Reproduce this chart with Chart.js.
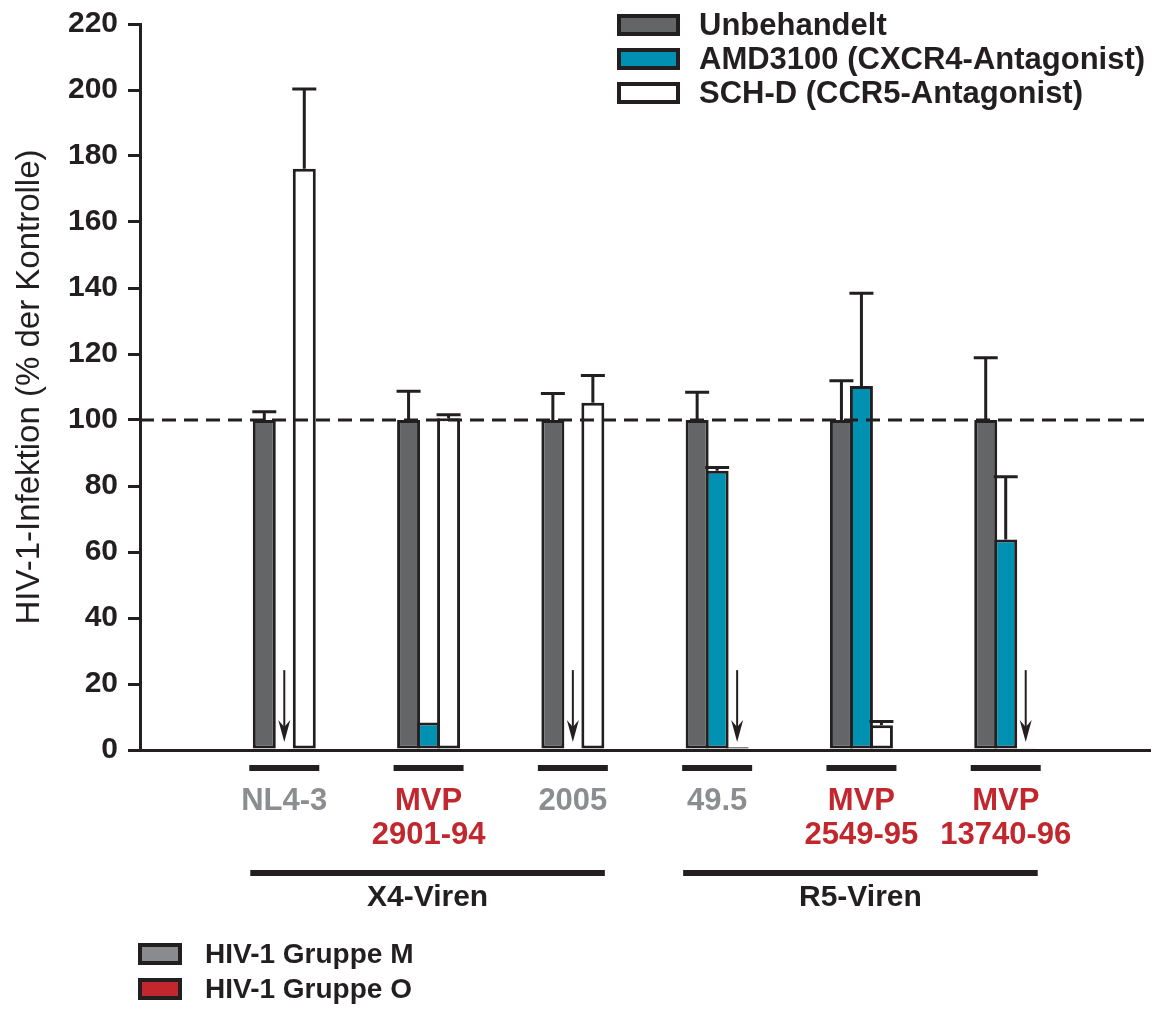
<!DOCTYPE html>
<html>
<head>
<meta charset="utf-8">
<script src="https://cdn.jsdelivr.net/npm/chart.js@4.4.1/dist/chart.umd.min.js"></script>
<style>
  html, body { margin: 0; padding: 0; background: #ffffff; }
  #wrap { width: 1161px; height: 1013px; position: relative; }
</style>
</head>
<body>
<div id="wrap"><canvas id="chart" width="1161" height="1013"></canvas></div>
<script>
// Virus isolates on the x axis (empty slots pad both ends of the axis)
const categories = ['', 'NL4-3', ['MVP', '2901-94'], '2005', '49.5', ['MVP', '2549-95'], ['MVP', '13740-96'], ''];
const virusGroup = [null, 'M', 'O', 'M', 'M', 'O', 'O', null];

// HIV-1 infection, % of control (mean and upper end of the error bar)
const untreated    = [null, 100, 100, 100, 100, 100, 100, null];
const untreatedErr = [null, 102.5, 108.7, 108, 108.4, 111.9, 118.9, null];
const amd3100      = [null, 0, 8.3, 0, 84.6, 110.3, 63.8, null];
const amd3100Err   = [null, null, null, null, 85.6, 138.4, 82.8, null];
const schD         = [null, 176.1, 100.5, 105.2, 0.8, 7.5, 0.5, null];
const schDErr      = [null, 200.3, 101.6, 113.5, null, 8.6, null, null];

const seriesNames = ['Unbehandelt', 'AMD3100 (CXCR4-Antagonist)', 'SCH-D (CCR5-Antagonist)'];
const yTickValues = [0, 20, 40, 60, 80, 100, 120, 140, 160, 180, 200, 220];
const referenceLevel = 100;

// [dataset index, category index] of infections below detection
const belowDetection = [[1, 1], [1, 3], [2, 4], [2, 6]];

// Coreceptor usage groups spanning several isolates
const coreceptorGroups = [
  { label: 'X4-Viren', from: 1, to: 3 },
  { label: 'R5-Viren', from: 4, to: 6 }
];
const groupNames = { M: 'HIV-1 Gruppe M', O: 'HIV-1 Gruppe O' };

const INK = '#231f20';
const FONT = '"Liberation Sans", Arial, Helvetica, sans-serif';
const groupTextColor = { M: '#8b8d90', O: '#c1272d' };
const groupBoxColor = { M: '#8a8b8e', O: '#c1272d' };

const dashedReference = {
  id: 'dashedReference',
  afterDatasetsDraw(chart) {
    const { ctx, chartArea } = chart;
    const y = chart.scales.y.getPixelForValue(referenceLevel);
    ctx.save();
    ctx.strokeStyle = INK;
    ctx.lineWidth = 3;
    ctx.setLineDash([14, 8]);
    ctx.beginPath();
    ctx.moveTo(chartArea.left, y);
    ctx.lineTo(chartArea.right, y);
    ctx.stroke();
    ctx.restore();
  }
};

const errorBars = {
  id: 'errorBars',
  afterDatasetsDraw(chart) {
    const { ctx } = chart;
    const yScale = chart.scales.y;
    ctx.save();
    ctx.strokeStyle = INK;
    ctx.lineWidth = 3;
    chart.data.datasets.forEach((ds, di) => {
      const meta = chart.getDatasetMeta(di);
      (ds.errorHigh || []).forEach((e, i) => {
        if (e == null) return;
        const bar = meta.data[i];
        const top = yScale.getPixelForValue(e);
        ctx.beginPath();
        ctx.moveTo(bar.x, bar.y);
        ctx.lineTo(bar.x, top);
        ctx.moveTo(bar.x - 12, top);
        ctx.lineTo(bar.x + 12, top);
        ctx.stroke();
      });
    });
    ctx.restore();
  }
};

const detectionArrows = {
  id: 'detectionArrows',
  afterDatasetsDraw(chart) {
    const { ctx } = chart;
    const yScale = chart.scales.y;
    ctx.save();
    ctx.strokeStyle = INK;
    ctx.fillStyle = INK;
    ctx.lineWidth = 2;
    belowDetection.forEach(([di, i]) => {
      const x = chart.getDatasetMeta(di).data[i].x;
      const yTop = yScale.getPixelForValue(24.2);
      const yTip = yScale.getPixelForValue(2.4);
      ctx.beginPath();
      ctx.moveTo(x, yTop);
      ctx.lineTo(x, yTip - 10);
      ctx.stroke();
      ctx.beginPath();
      ctx.moveTo(x, yTip);
      ctx.lineTo(x - 6, yTip - 22);
      ctx.lineTo(x, yTip - 15);
      ctx.lineTo(x + 6, yTip - 22);
      ctx.closePath();
      ctx.fill();
    });
    ctx.restore();
  }
};

const isolateMarkers = {
  id: 'isolateMarkers',
  afterDraw(chart) {
    const { ctx } = chart;
    const xScale = chart.scales.x;
    ctx.save();
    ctx.fillStyle = INK;
    categories.forEach((c, i) => {
      if (!virusGroup[i]) return;
      const x = xScale.getPixelForValue(i);
      ctx.fillRect(x - 35, 765, 70, 6);
    });
    coreceptorGroups.forEach(g => {
      const x0 = xScale.getPixelForValue(g.from) - 34;
      const x1 = xScale.getPixelForValue(g.to) + 32;
      ctx.fillRect(x0, 870, x1 - x0, 6);
      ctx.font = 'bold 30px ' + FONT;
      ctx.textAlign = 'center';
      ctx.textBaseline = 'middle';
      ctx.fillText(g.label, (x0 + x1) / 2, 898);
    });
    ctx.restore();
  }
};

function drawKeyBox(ctx, x, y, w, h, fill) {
  ctx.fillStyle = INK;
  ctx.fillRect(x, y, w, h);
  ctx.fillStyle = fill;
  ctx.fillRect(x + 4, y + 4, w - 8, h - 8);
}

const seriesKey = {
  id: 'seriesKey',
  afterDraw(chart) {
    const { ctx } = chart;
    ctx.save();
    ctx.font = 'bold 31px ' + FONT;
    ctx.textAlign = 'left';
    ctx.textBaseline = 'middle';
    chart.data.datasets.forEach((ds, i) => {
      const cy = 25 + i * 34;
      drawKeyBox(ctx, 617, cy - 11, 63, 22, ds.backgroundColor);
      ctx.fillStyle = INK;
      ctx.fillText(ds.label, 699, cy + 1);
    });
    ctx.restore();
  }
};

const groupKey = {
  id: 'groupKey',
  afterDraw(chart) {
    const { ctx } = chart;
    ctx.save();
    ctx.font = 'bold 28px ' + FONT;
    ctx.textAlign = 'left';
    ctx.textBaseline = 'middle';
    Object.keys(groupNames).forEach((g, i) => {
      const cy = 954 + i * 35;
      drawKeyBox(ctx, 138, cy - 11, 44, 22, groupBoxColor[g]);
      ctx.fillStyle = INK;
      ctx.fillText(groupNames[g], 205, cy + 1);
    });
    ctx.restore();
  }
};

const barStyle = {
  borderColor: INK,
  borderWidth: 3,
  borderSkipped: false,
  categoryPercentage: 0.4158,
  barPercentage: 1.15
};

new Chart(document.getElementById('chart'), {
  type: 'bar',
  data: {
    labels: categories,
    datasets: [
      Object.assign({ label: seriesNames[0], data: untreated, errorHigh: untreatedErr, backgroundColor: '#646567' }, barStyle),
      Object.assign({ label: seriesNames[1], data: amd3100, errorHigh: amd3100Err, backgroundColor: '#0090b2' }, barStyle),
      Object.assign({ label: seriesNames[2], data: schD, errorHigh: schDErr, backgroundColor: '#ffffff' }, barStyle)
    ]
  },
  options: {
    responsive: false,
    animation: false,
    devicePixelRatio: 1,
    events: [],
    layout: { padding: { top: 24, right: 11, left: 0, bottom: 0 } },
    plugins: {
      legend: { display: false },
      tooltip: { enabled: false }
    },
    scales: {
      x: {
        type: 'category',
        offset: false,
        grid: { display: false, drawTicks: false },
        border: { display: true, color: INK, width: 3 },
        ticks: {
          autoSkip: false,
          maxRotation: 0,
          padding: 34,
          font: { family: FONT, size: 31, weight: 'bold', lineHeight: 34 / 31 },
          color: c => groupTextColor[virusGroup[c.index]] || INK
        },
        afterFit(scale) {
          scale.height = 263;
          scale.paddingLeft = 0;
          scale.paddingRight = 0;
        }
      },
      y: {
        min: 0,
        max: 220,
        afterBuildTicks(scale) {
          scale.ticks = yTickValues.map(v => ({ value: v }));
        },
        grid: { drawOnChartArea: false, drawTicks: true, tickLength: 12, color: INK, lineWidth: 3 },
        border: { display: true, color: INK, width: 3 },
        ticks: {
          padding: 10,
          color: INK,
          font: { family: FONT, size: 30, weight: 'bold' }
        },
        title: {
          display: true,
          text: 'HIV-1-Infektion (% der Kontrolle)',
          color: INK,
          font: { family: FONT, size: 33, weight: 'normal' },
          padding: { top: 10, bottom: 0 }
        },
        afterFit(scale) {
          scale.width = 140;
          scale.paddingTop = 0;
          scale.paddingBottom = 0;
        }
      }
    }
  },
  plugins: [dashedReference, errorBars, detectionArrows, isolateMarkers, seriesKey, groupKey]
});
</script>
</body>
</html>
